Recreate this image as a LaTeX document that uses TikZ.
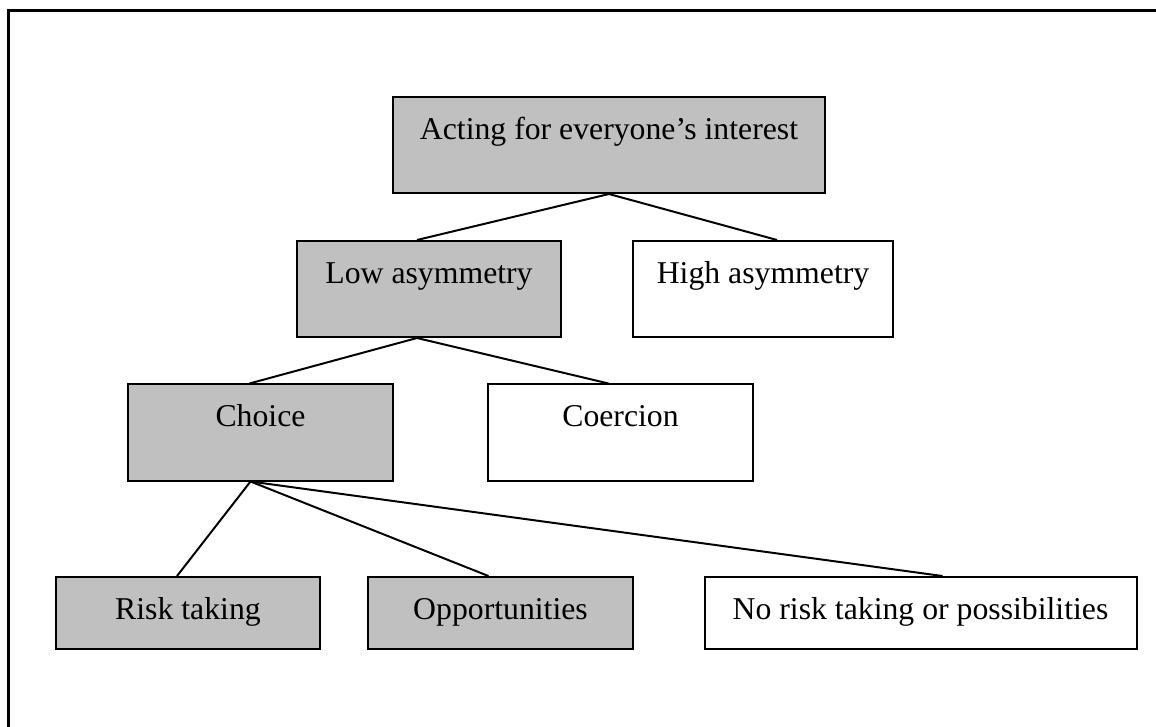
\documentclass[tikz,border=0pt]{standalone}
\usepackage{fontspec}
\setmainfont{Liberation Serif}
\usetikzlibrary{calc}
\definecolor{Shade}{HTML}{C0C0C0}
\definecolor{Ink}{HTML}{000000}
\tikzset{
    plainbox/.style={rectangle, draw=Ink, line width=0.75pt, inner xsep=0pt, inner ysep=0pt, font=\fontsize{12}{14}\selectfont, text=Ink, text height=15.9pt, text depth=20.4pt, minimum width=100pt},
    greybox/.style={plainbox, fill=Shade},
    widebox/.style={minimum width=163.3pt},
    flatbox/.style={text depth=11.3pt},
    link/.style={line width=0.75pt, color=Ink},
    frame/.style={line width=1.2pt, color=Ink},
}
\begin{document}
\begin{tikzpicture}[x=0.378pt, y=-0.378pt]
    \useasboundingbox (0,0) rectangle (1156,727);
    % Cornice
    \draw[frame] (8.5,727) |- (1156,10.5);

    % Livello 1
    \node[greybox, widebox] (everyone) at (609,145) {Acting for everyone’s interest};

    % Livello 2
    \node[greybox] (lowasym) at (429,289) {Low asymmetry};
    \node[plainbox, minimum width=98.3pt] (highasym) at (763,289) {High asymmetry};

    % Livello 3
    \node[greybox] (choice) at (260.5,432.5) {Choice};
    \node[plainbox] (coercion) at (620.5,432.5) {Coercion};

    % Livello 4
    \node[greybox, flatbox] (risk) at (188,613) {Risk taking};
    \node[greybox, flatbox] (opport) at (500.5,613) {Opportunities};
    \node[plainbox, flatbox, widebox] (norisk) at (920.5,613) {No risk taking or possibilities};

    % Collegamenti
    \draw[link] (everyone.south) -- ($(lowasym.north)+(-12,0)$);
    \draw[link] (everyone.south) -- ($(highasym.north)+(14,0)$);
    \draw[link] ($(lowasym.south)+(-12,0)$) -- ($(choice.north)+(-11,0)$);
    \draw[link] ($(lowasym.south)+(-12,0)$) -- ($(coercion.north)+(-12,0)$);
    \draw[link] ($(choice.south)+(-10,0)$) -- ($(risk.north)+(-11,0)$);
    \draw[link] ($(choice.south)+(-10,0)$) -- ($(opport.north)+(-12,0)$);
    \draw[link] ($(choice.south)+(-10,0)$) -- ($(norisk.north)+(22,0)$);
\end{tikzpicture}
\end{document}
